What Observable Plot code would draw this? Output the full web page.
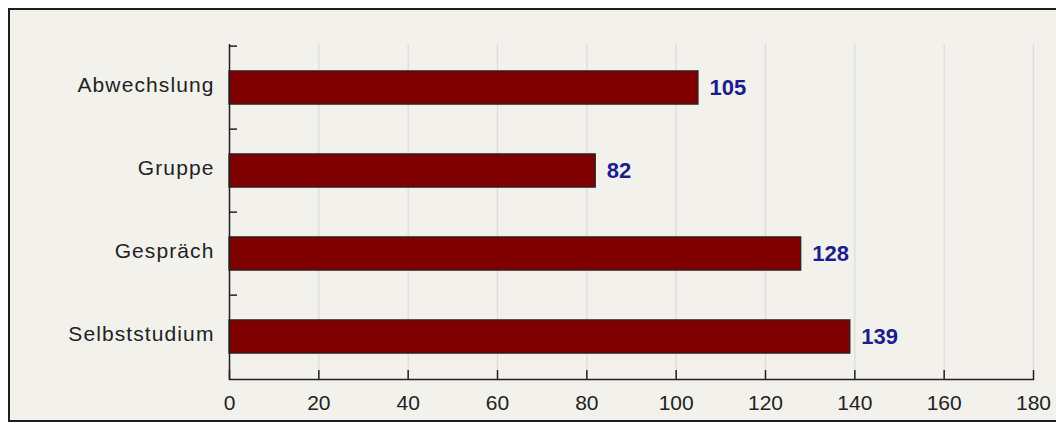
<!DOCTYPE html>
<html><head><meta charset="utf-8">
<script src="https://cdn.jsdelivr.net/npm/d3@7"></script>
<script src="https://cdn.jsdelivr.net/npm/@observablehq/plot@0.6"></script>
<style>
html,body{margin:0;padding:0;background:#fff;overflow:hidden;width:1056px;height:423px}
#wrap{position:relative;width:1056px;height:423px;overflow:hidden}
#frame{position:absolute;left:8px;top:8px;width:1100px;height:410px;border:2px solid #1e1e1e;background:#f2f1ec}
#chart{position:absolute;left:0;top:0}
#chart g[aria-label="y-axis tick label"] text{letter-spacing:1.1px}
</style></head><body><div id="wrap"><div id="frame"></div><div id="chart"></div></div>
<script>
const categories = ["Abwechslung", "Gruppe", "Gespräch", "Selbststudium"];
const values = [105, 82, 128, 139];
const xTicks = [0, 20, 40, 60, 80, 100, 120, 140, 160, 180];

const data = categories.map((c, i) => ({category: c, value: values[i]}));
const W = 1056, H = 423, mL = 229, mR = 23, mT = 44, mB = 44;
const plotH = H - mT - mB, plotW = W - mL - mR;
const step = plotH / categories.length;
const barH = 34;
const barInset = (step - barH) / 2;
const ink = "#222";

const chart = Plot.plot({
  width: W, height: H,
  marginLeft: mL, marginRight: mR, marginTop: mT, marginBottom: mB,
  style: {background: "transparent", fontFamily: "'Liberation Sans', Arial, sans-serif", overflow: "visible"},
  x: {domain: [0, 180], ticks: xTicks, label: null},
  y: {domain: categories, padding: 0, label: null},
  marks: [
    Plot.gridX(xTicks, {stroke: "#dcdcdc", strokeOpacity: 1, strokeWidth: 1.3}),
    Plot.barX(data, {x: "value", y: "category", fill: "#7f0000", stroke: ink, strokeWidth: 1.2, insetTop: barInset, insetBottom: barInset}),
    Plot.ruleX([0], {stroke: ink, strokeWidth: 1.5}),
    Plot.frame({anchor: "bottom", stroke: ink, strokeWidth: 1.5}),
    Plot.tickX(xTicks, {x: d => d, stroke: ink, strokeWidth: 1.5, insetTop: plotH - 9}),
    Plot.ruleY(categories, {y: d => d, stroke: ink, strokeWidth: 1.5, insetRight: plotW - 8, dy: -step / 2}),
    Plot.axisX(xTicks, {tickSize: 0, tickPadding: 16, fontSize: 21, fill: ink}),
    Plot.axisY({tickSize: 0, tickPadding: 15, fontSize: 21, dy: -3, fill: ink}),
    Plot.text(data, {x: "value", y: "category", text: d => String(d.value), textAnchor: "start", dx: 11, fill: "#1c1c90", fontWeight: "bold", fontSize: 22})
  ]
});
document.getElementById("chart").appendChild(chart);
</script></body></html>
